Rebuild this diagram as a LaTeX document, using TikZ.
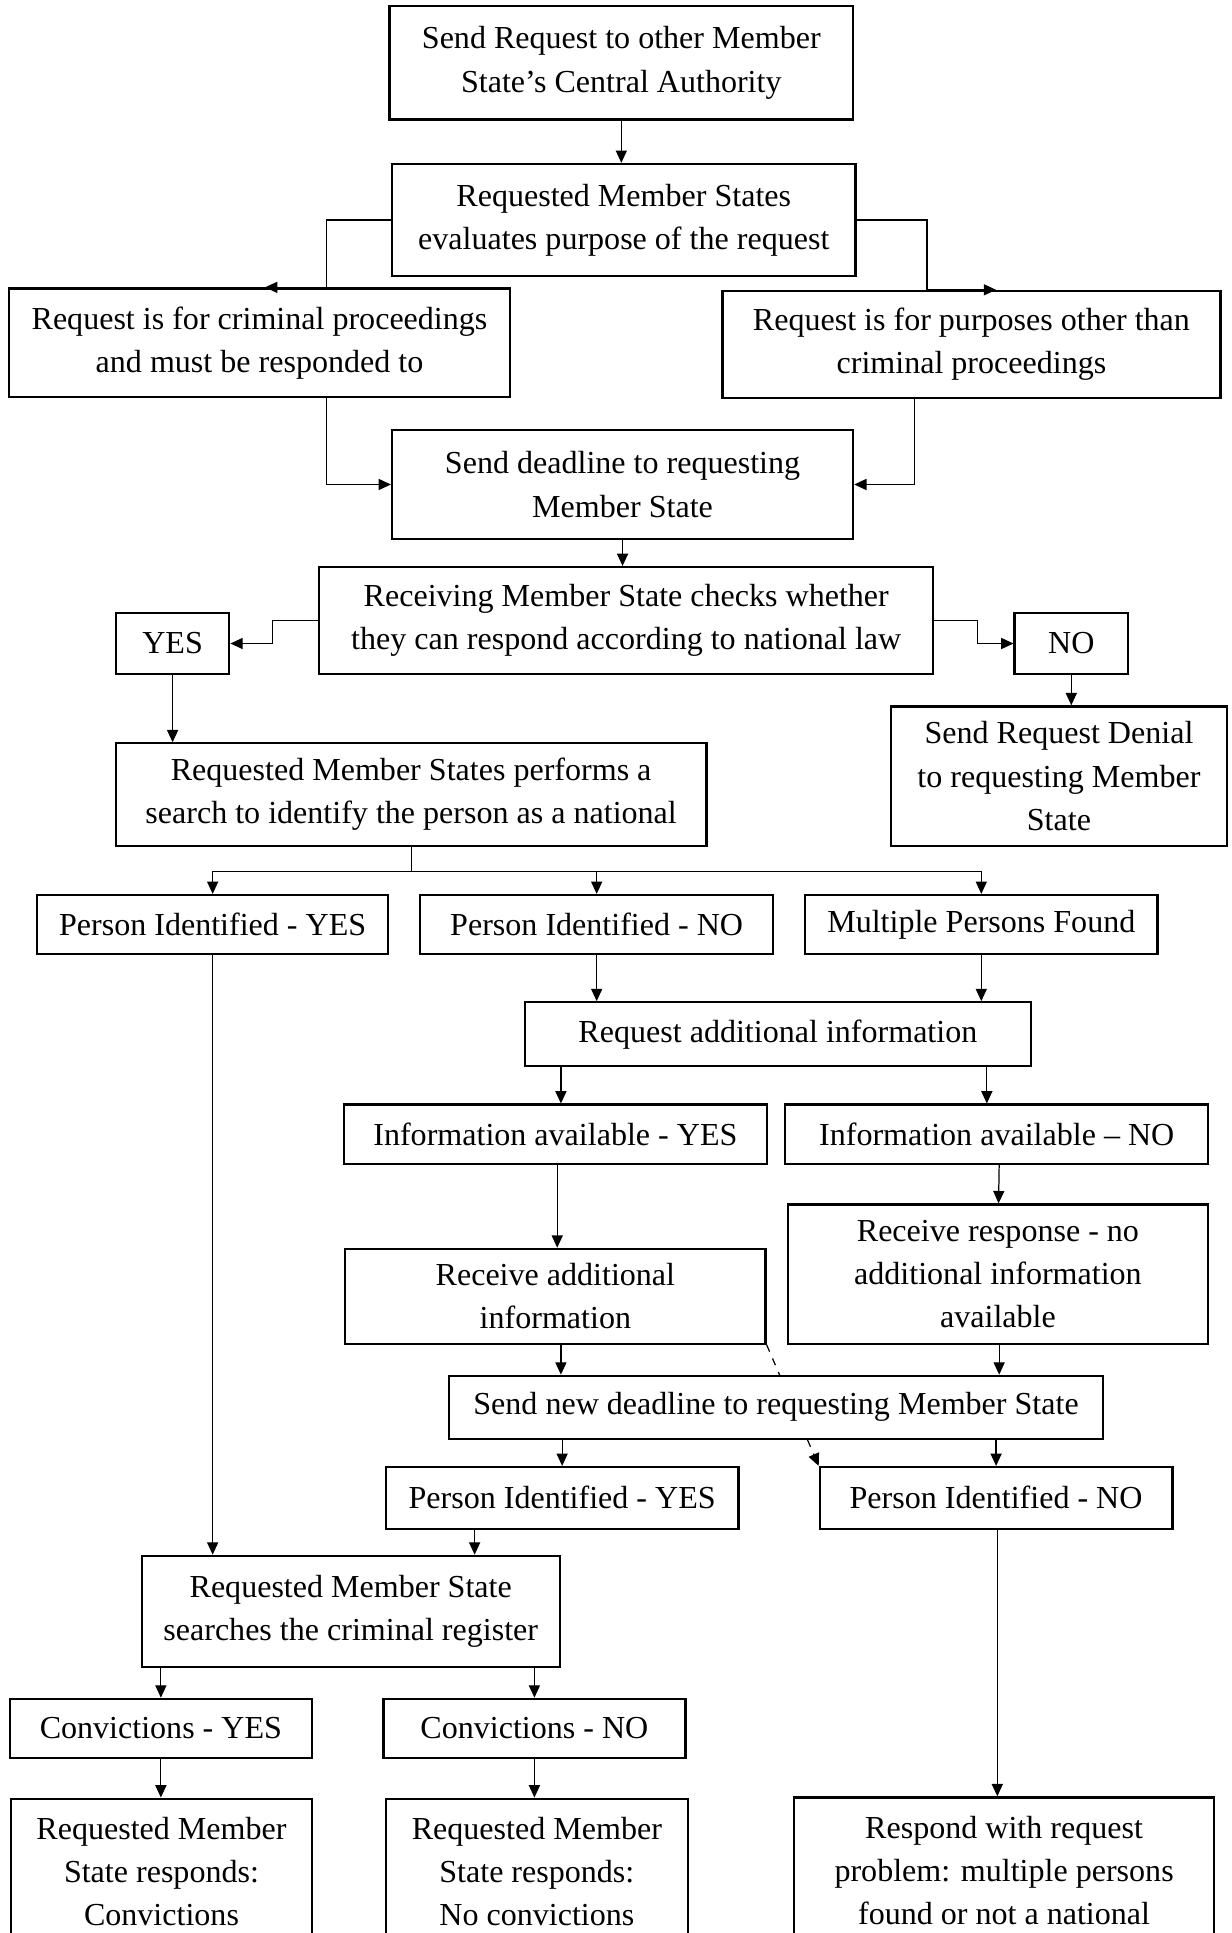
\documentclass[tikz,border=0pt]{standalone}
\usepackage{fontspec}
\setmainfont{Liberation Serif}
\usetikzlibrary{arrows.meta,calc,backgrounds}
\tikzset{
  box/.style={draw, line width=0.9pt, fill=white, inner sep=0pt, align=center,
    font=\fontsize{13}{17.5}\selectfont},
  conn/.style={line width=0.5pt},
  arr/.style={conn, -{Triangle[length=5pt,width=4.5pt]}},
}
% \bx{name}{x1}{y1}{x2}{y2}{text}
\newcommand\bx[6]{%
  \pgfmathsetmacro\bxw{(#4-#2)*0.5}%
  \pgfmathsetmacro\bxh{(#5-#3)*0.5}%
  \pgfmathsetmacro\bxcx{(#2+#4)/2}%
  \pgfmathsetmacro\bxcy{(#3+#5)/2}%
  \node[box, minimum width=\bxw pt, minimum height=\bxh pt] (#1) at (\bxcx,\bxcy) {#6};}
\begin{document}
\begin{tikzpicture}[x=0.5pt,y=-0.5pt]
\useasboundingbox (0,0) rectangle (999,1568);
\clip (0,0) rectangle (999,1568);
% boxes
\bx{b1}{316}{5}{692}{97}{Send Request to other Member\\State’s Central Authority}
\bx{b2}{318}{133}{694}{224}{Requested Member States\\evaluates purpose of the request}
\bx{b3}{7}{234}{414}{322}{Request is for criminal proceedings\\and must be responded to}
\bx{b4}{586}{236}{990}{323}{Request is for purposes other than\\criminal proceedings}
\bx{b5}{318}{349}{692}{437}{Send deadline to requesting\\Member State}
\bx{b6}{259}{460}{757}{547}{Receiving Member State checks whether\\they can respond according to national law}
\bx{yes}{94}{497}{186}{547}{YES}
\bx{no}{823}{497}{915}{547}{NO}
\bx{b8}{94}{603}{573}{686}{Requested Member States performs a\\search to identify the person as a national}
\bx{b9}{723}{573}{995}{686}{Send Request Denial\\to requesting Member\\State}
\bx{pi1}{30}{726}{315}{774}{Person Identified - YES}
\bx{pi2}{341}{726}{627}{774}{Person Identified - NO}
\bx{mp}{653}{726}{939}{774}{Multiple Persons Found}
\bx{rai}{426}{813}{836}{865}{Request additional information}
\bx{iy}{279}{896}{622}{944}{Information available - YES}
\bx{in}{637}{896}{980}{944}{Information available – NO}
\bx{rca}{280}{1013}{621}{1090}{Receive additional\\information}
\bx{rr}{639}{977}{980}{1090}{Receive response - no\\additional information\\available}
\bx{pi4}{665}{1190}{951}{1240}{Person Identified - NO}
\begin{scope}[on background layer]
\draw[arr, dashed] (rca.south east) -- (pi4.north west);
\end{scope}
\bx{snd}{364}{1116}{895}{1167}{Send new deadline to requesting Member State}
\bx{pi3}{313}{1190}{599}{1240}{Person Identified - YES}
\bx{crs}{115}{1262}{454}{1352}{Requested Member State\\searches the criminal register}
\bx{cy}{8}{1378}{253}{1426}{Convictions - YES}
\bx{cn}{311}{1378}{556}{1426}{Convictions - NO}
\bx{ry}{9}{1459}{253}{1577}{Requested Member\\State responds:\\Convictions}
\bx{rn}{313}{1459}{558}{1577}{Requested Member\\State responds:\\No convictions}
\bx{rp}{644}{1458}{985}{1577}{Respond with request\\problem: multiple persons\\found or not a national}
% connectors
\draw[arr] (b1.south) -- (b1.south |- b2.north);
\draw[arr] (b2.west) -| ($(b3.north)+(54.5,0)$) -- ($(b3.north)+(4.5,0)$);
\draw[arr] (b2.east) -| ($(b4.north)+(-36,0)$) -- ($(b4.north)+(20,0)$);
\draw[arr] ($(b3.south)+(54.5,0)$) |- (b5.west);
\draw[arr] ($(b4.south)+(-46,0)$) |- (b5.east);
\draw[arr] (b5.south) -- (b5.south |- b6.north);
\draw[arr] (b6.west) -- ($(b6.west)+(-37,0)$) |- (yes.east);
\draw[arr] (b6.east) -- ($(b6.east)+(35,0)$) |- (no.west);
\draw[arr] (yes.south) -- (yes.south |- b8.north);
\draw[arr] (no.south) -- (no.south |- b9.north);
\coordinate (sp) at ($(b8.south)+(0,20)$);
\draw[conn] (b8.south) -- (sp);
\draw[arr] (sp) -| (pi1.north);
\draw[arr] (sp) -| (pi2.north);
\draw[arr] (sp) -| (mp.north);
\draw[arr] (pi2.south) -- (pi2.south |- rai.north);
\draw[arr] (mp.south) -- (mp.south |- rai.north);
\draw[arr] ($(iy.north |- rai.south)+(4.5,0)$) -- ($(iy.north)+(4.5,0)$);
\draw[arr] ($(in.north |- rai.south)+(-8,0)$) -- ($(in.north)+(-8,0)$);
\draw[arr] ($(iy.south)+(1.5,0)$) -- ($(rca.north)+(1.5,0)$);
\draw[arr] ($(in.south)+(2,0)$) -- ($(rr.north)+(0.5,0)$);
\draw[arr] ($(rca.south)+(4.5,0)$) -- ($(rca.south |- snd.north)+(4.5,0)$);
\draw[arr] ($(rr.south)+(1,0)$) -- ($(rr.south |- snd.north)+(1,0)$);
\draw[arr] (snd.south -| pi3.north) -- (pi3.north);
\draw[arr] (snd.south -| pi4.north) -- (pi4.north);
\draw[arr] (pi1.south) -- (pi1.south |- crs.north);
\draw[arr] ($(pi3.south)+(-71,0)$) -- ($(pi3.south |- crs.north)+(-71,0)$);
\draw[arr] (cy.north |- crs.south) -- (cy.north);
\draw[arr] (cn.north |- crs.south) -- (cn.north);
\draw[arr] (cy.south) -- (cy.south |- ry.north);
\draw[arr] (cn.south) -- (cn.south |- rn.north);
\draw[arr] ($(pi4.south)+(1,0)$) -- ($(pi4.south |- rp.north)+(1,0)$);
\end{tikzpicture}
\end{document}
